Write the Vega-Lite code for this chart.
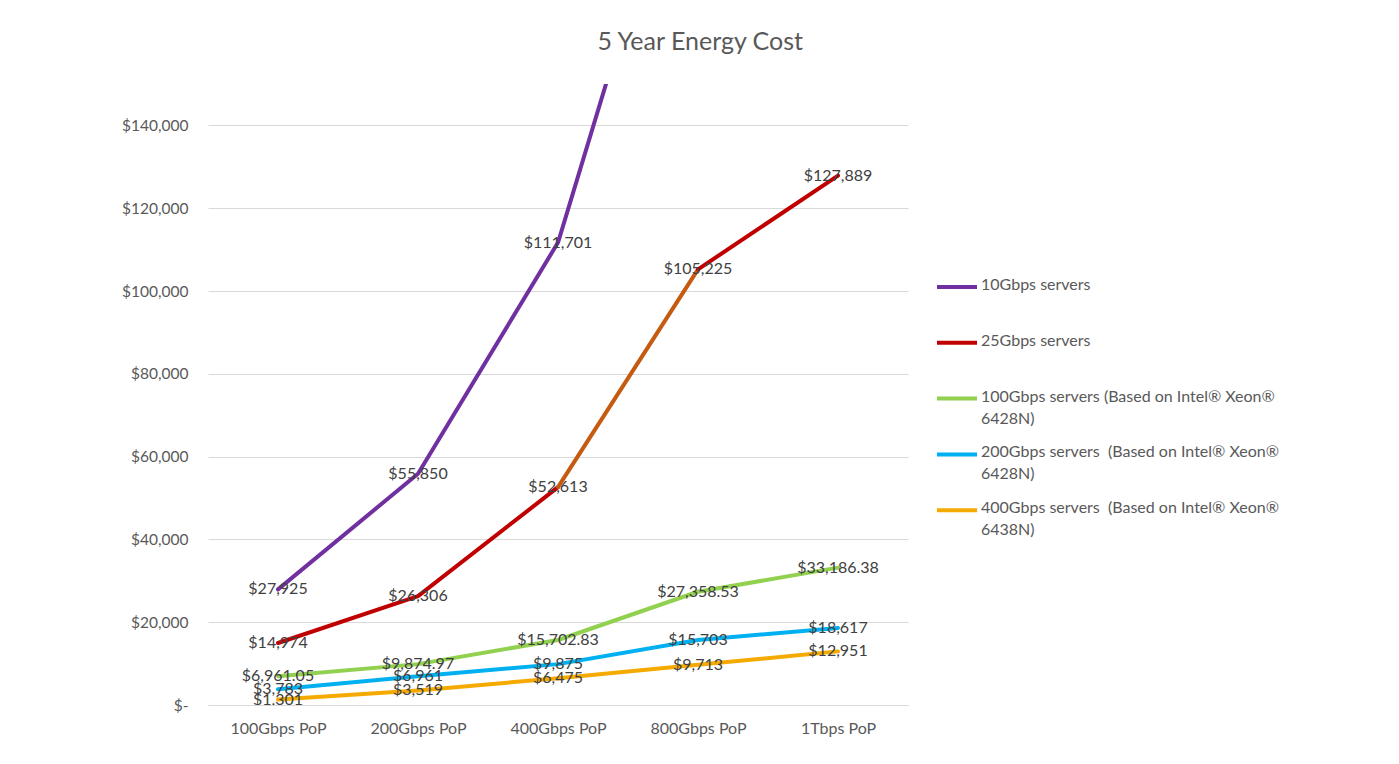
{
  "$schema": "https://vega.github.io/schema/vega-lite/v6.json",
  "width": 700,
  "height": 621,
  "autosize": {"type": "none"},
  "padding": {"left": 208, "top": 84, "right": 491, "bottom": 59},
  "background": "white",
  "title": {
    "text": "5 Year Energy Cost",
    "anchor": "middle",
    "frame": "bounds",
    "font": "Lato",
    "fontSize": 25,
    "fontWeight": "normal",
    "color": "#595959",
    "offset": 29
  },
  "config": {
    "view": {"stroke": null},
    "font": "Lato"
  },
  "data": {
    "values": [
      {"series": "10Gbps servers", "pop": "100Gbps PoP", "value": 27925},
      {"series": "10Gbps servers", "pop": "200Gbps PoP", "value": 55850},
      {"series": "10Gbps servers", "pop": "400Gbps PoP", "value": 111701},
      {"series": "10Gbps servers", "pop": "800Gbps PoP", "value": 223402},
      {"series": "10Gbps servers", "pop": "1Tbps PoP", "value": 279253},
      {"series": "25Gbps servers", "pop": "100Gbps PoP", "value": 14974},
      {"series": "25Gbps servers", "pop": "200Gbps PoP", "value": 26306},
      {"series": "25Gbps servers", "pop": "400Gbps PoP", "value": 52613},
      {"series": "25Gbps servers", "pop": "800Gbps PoP", "value": 105225},
      {"series": "25Gbps servers", "pop": "1Tbps PoP", "value": 127889},
      {"series": "100Gbps servers (Based on Intel® Xeon® 6428N)", "pop": "100Gbps PoP", "value": 6961.05},
      {"series": "100Gbps servers (Based on Intel® Xeon® 6428N)", "pop": "200Gbps PoP", "value": 9874.97},
      {"series": "100Gbps servers (Based on Intel® Xeon® 6428N)", "pop": "400Gbps PoP", "value": 15702.83},
      {"series": "100Gbps servers (Based on Intel® Xeon® 6428N)", "pop": "800Gbps PoP", "value": 27358.53},
      {"series": "100Gbps servers (Based on Intel® Xeon® 6428N)", "pop": "1Tbps PoP", "value": 33186.38},
      {"series": "200Gbps servers  (Based on Intel® Xeon® 6428N)", "pop": "100Gbps PoP", "value": 3783},
      {"series": "200Gbps servers  (Based on Intel® Xeon® 6428N)", "pop": "200Gbps PoP", "value": 6961},
      {"series": "200Gbps servers  (Based on Intel® Xeon® 6428N)", "pop": "400Gbps PoP", "value": 9875},
      {"series": "200Gbps servers  (Based on Intel® Xeon® 6428N)", "pop": "800Gbps PoP", "value": 15703},
      {"series": "200Gbps servers  (Based on Intel® Xeon® 6428N)", "pop": "1Tbps PoP", "value": 18617},
      {"series": "400Gbps servers  (Based on Intel® Xeon® 6438N)", "pop": "100Gbps PoP", "value": 1301},
      {"series": "400Gbps servers  (Based on Intel® Xeon® 6438N)", "pop": "200Gbps PoP", "value": 3519},
      {"series": "400Gbps servers  (Based on Intel® Xeon® 6438N)", "pop": "400Gbps PoP", "value": 6475},
      {"series": "400Gbps servers  (Based on Intel® Xeon® 6438N)", "pop": "800Gbps PoP", "value": 9713},
      {"series": "400Gbps servers  (Based on Intel® Xeon® 6438N)", "pop": "1Tbps PoP", "value": 12951}
    ]
  },
  "encoding": {
    "x": {
      "field": "pop",
      "type": "ordinal",
      "sort": ["100Gbps PoP", "200Gbps PoP", "400Gbps PoP", "800Gbps PoP", "1Tbps PoP"],
      "scale": {"type": "point", "padding": 0.5},
      "axis": {
        "title": null,
        "labelAngle": 0,
        "labelFont": "Lato",
        "labelFontSize": 16,
        "labelColor": "#595959",
        "labelPadding": 15,
        "ticks": false,
        "domain": true,
        "domainColor": "#D9D9D9",
        "domainWidth": 1,
        "grid": false
      }
    },
    "y": {
      "field": "value",
      "type": "quantitative",
      "scale": {"domain": [0, 150000], "nice": false, "zero": true},
      "axis": {
        "title": null,
        "values": [0, 20000, 40000, 60000, 80000, 100000, 120000, 140000],
        "labelExpr": "datum.value == 0 ? '$-' : '$' + format(datum.value, ',')",
        "labelFont": "Lato",
        "labelFontSize": 15.5,
        "labelColor": "#595959",
        "labelPadding": 20,
        "ticks": false,
        "domain": false,
        "grid": true,
        "gridColor": "#D9D9D9",
        "gridWidth": 1
      }
    }
  },
  "layer": [
    {
      "transform": [{"filter": "datum.series != '25Gbps servers'"}],
      "mark": {"type": "line", "interpolate": "linear", "strokeWidth": 4, "strokeCap": "round", "strokeJoin": "round", "clip": true},
      "encoding": {
        "color": {
          "field": "series",
          "type": "nominal",
          "scale": {
            "domain": ["10Gbps servers", "25Gbps servers", "100Gbps servers (Based on Intel® Xeon® 6428N)", "200Gbps servers  (Based on Intel® Xeon® 6428N)", "400Gbps servers  (Based on Intel® Xeon® 6438N)"],
            "range": ["#7030A0", "#C00000", "#92D050", "#00B0F0", "#F4AA00"]
          },
          "legend": {
            "title": null,
            "orient": "none",
            "legendX": 727,
            "legendY": 181,
            "padding": 0,
            "symbolType": "stroke",
            "symbolSize": 1600,
            "symbolStrokeWidth": 4,
            "labelFont": "Lato",
            "labelFontSize": 16,
            "labelColor": "#595959",
            "labelOffset": 2,
            "labelLimit": 400,
            "labelBaseline": "top",
            "rowPadding": 5.8,
            "labelExpr": "length(datum.label) > 30 ? [replace(slice(datum.label, 0, lastindexof(datum.label, ' ')), '  ', ' \u00a0'), slice(datum.label, lastindexof(datum.label, ' ') + 1)] : [datum.label, '']",
            "encode": {
              "labels": {"update": {"dy": {"value": -10}, "lineHeight": {"value": 22}}}
            }
          }
        }
      }
    },
    {
      "transform": [{"filter": "datum.series == '25Gbps servers' && indexof(['100Gbps PoP', '200Gbps PoP', '400Gbps PoP'], datum.pop) >= 0"}],
      "mark": {"type": "line", "interpolate": "linear", "strokeWidth": 4, "strokeCap": "round", "strokeJoin": "round", "clip": true},
      "encoding": {"color": {"field": "series", "type": "nominal"}}
    },
    {
      "transform": [{"filter": "datum.series == '25Gbps servers' && indexof(['400Gbps PoP', '800Gbps PoP'], datum.pop) >= 0"}],
      "mark": {"type": "line", "interpolate": "linear", "strokeWidth": 4, "strokeCap": "round", "clip": true, "color": "#C55A11"},
      "encoding": {}
    },
    {
      "transform": [{"filter": "datum.series == '25Gbps servers' && indexof(['800Gbps PoP', '1Tbps PoP'], datum.pop) >= 0"}],
      "mark": {"type": "line", "interpolate": "linear", "strokeWidth": 4, "strokeCap": "round", "clip": true},
      "encoding": {"color": {"field": "series", "type": "nominal"}}
    },
    {
      "transform": [
        {"calculate": "indexof(datum.series, '100Gbps servers') == 0 ? format(datum.value, '$,.2f') : format(datum.value, '$,.0f')", "as": "label"}
      ],
      "mark": {"type": "text", "font": "Lato", "fontSize": 16, "color": "#404040", "align": "center", "baseline": "middle", "clip": true},
      "encoding": {"text": {"field": "label"}}
    }
  ]
}
